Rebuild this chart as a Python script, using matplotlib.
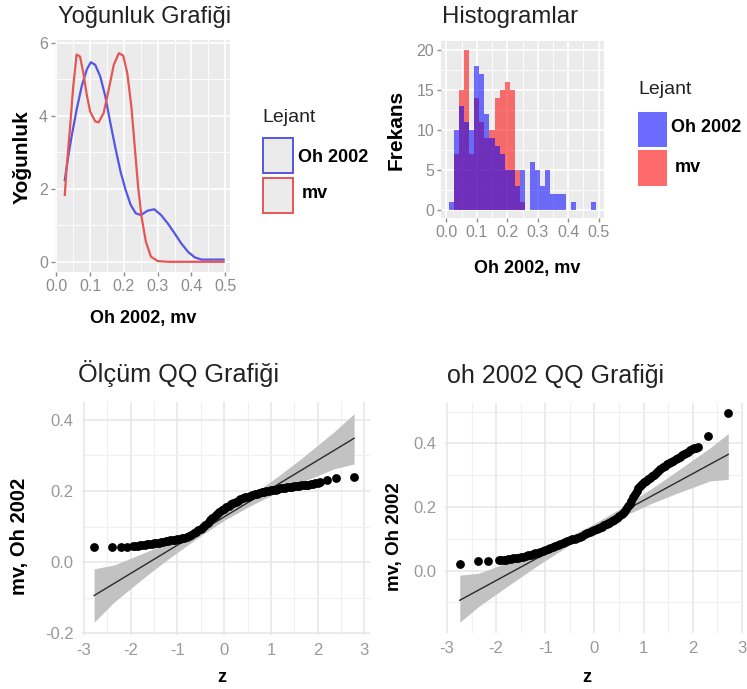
import numpy as np
import matplotlib
matplotlib.use("Agg")
import matplotlib.pyplot as plt
from matplotlib.patches import Rectangle
from matplotlib.ticker import FixedLocator

plt.rcParams['font.family'] = ['Liberation Sans', 'DejaVu Sans']

# ---------------- data ----------------
# density curves (x, density)
dens_oh_x = [0.025, 0.035, 0.045, 0.06, 0.075, 0.09, 0.102, 0.115, 0.13, 0.145, 0.16, 0.175, 0.19,
             0.205, 0.22, 0.235, 0.25, 0.27, 0.29, 0.31, 0.33, 0.35, 0.37, 0.39, 0.41, 0.43, 0.46, 0.495]
dens_oh_y = [2.24, 2.88, 3.43, 4.17, 4.81, 5.27, 5.47, 5.40, 5.08, 4.53, 3.80, 3.11, 2.47,
             1.97, 1.56, 1.33, 1.28, 1.40, 1.44, 1.28, 1.05, 0.78, 0.50, 0.27, 0.12, 0.06, 0.06, 0.06]
dens_mv_x = [0.025, 0.03, 0.04, 0.05, 0.06, 0.07, 0.08, 0.09, 0.10, 0.115, 0.125, 0.14, 0.155, 0.17,
             0.185, 0.198, 0.21, 0.222, 0.232, 0.242, 0.252, 0.265, 0.28, 0.30, 0.33, 0.495]
dens_mv_y = [1.83, 2.52, 3.62, 4.81, 5.68, 5.63, 5.17, 4.58, 4.12, 3.85, 3.82, 4.08, 4.72, 5.40,
             5.72, 5.65, 5.17, 4.26, 3.16, 2.06, 1.24, 0.55, 0.14, 0.02, 0.0, 0.0]

# histogram counts (shared bins)
hist_bin_start = 0.008
hist_binwidth = 0.01667
hist_oh = [1, 10, 13, 11, 10, 18, 17, 12, 9, 8, 7, 5, 5, 3, 5, 0, 6, 5, 3, 5, 2, 2, 2, 0, 1, 0, 0, 0, 1]
hist_mv = [0, 7, 15, 20, 7, 14, 11, 9, 10, 14, 15, 16, 15, 5, 1, 0, 0, 0, 0, 0, 0, 0, 0, 0, 0, 0, 0, 0, 0]

# QQ plot: measurement (mv)  (theoretical z, sample value)
qq_mv_z = [-2.78, -2.39, -2.20, -2.07,
           -1.95, -1.90, -1.85, -1.80, -1.75, -1.70, -1.65, -1.60, -1.55, -1.50, -1.45, -1.40,
           -1.35, -1.30, -1.25, -1.20, -1.15, -1.10, -1.05, -1.00, -0.95, -0.90, -0.85, -0.80,
           -0.75, -0.70, -0.65, -0.60, -0.55, -0.50, -0.45, -0.40, -0.35, -0.30, -0.25, -0.20,
           -0.15, -0.10, -0.05, 0.00, 0.05, 0.10, 0.15, 0.20, 0.25, 0.30, 0.35, 0.40, 0.45, 0.50,
           0.55, 0.60, 0.65, 0.70, 0.75, 0.80, 0.85, 0.90, 0.95, 1.00, 1.05, 1.10, 1.15, 1.20,
           1.25, 1.30, 1.35, 1.40, 1.45, 1.50, 1.55, 1.60, 1.65, 1.70, 1.75, 1.80, 1.85, 1.90,
           1.95, 2.00, 2.05,
           2.20, 2.39, 2.78]
qq_mv_v = [0.042, 0.042, 0.042, 0.043,
           0.045, 0.046, 0.046, 0.047, 0.048, 0.049, 0.050, 0.051, 0.052, 0.053, 0.054, 0.055,
           0.056, 0.057, 0.059, 0.060, 0.061, 0.062, 0.063, 0.064, 0.065, 0.067, 0.069, 0.071,
           0.074, 0.077, 0.081, 0.085, 0.089, 0.094, 0.099, 0.105, 0.111, 0.117, 0.123, 0.129,
           0.135, 0.140, 0.145, 0.150, 0.155, 0.159, 0.163, 0.166, 0.170, 0.173, 0.176, 0.179,
           0.182, 0.184, 0.186, 0.188, 0.190, 0.192, 0.194, 0.196, 0.198, 0.199, 0.201, 0.202,
           0.203, 0.204, 0.205, 0.207, 0.208, 0.209, 0.210, 0.211, 0.212, 0.213, 0.214, 0.215,
           0.216, 0.216, 0.217, 0.218, 0.219, 0.220, 0.221, 0.222, 0.224,
           0.232, 0.236, 0.239]
qq_mv_intercept = 0.127
qq_mv_slope = 0.0795
band_mv_z = [-2.78, -2.35, -1.64, -1.14, -0.5, 0, 0.5, 1.14, 1.64, 2.35, 2.78]
band_mv_lo = [-0.169, -0.112, -0.036, 0.014, 0.074, 0.117, 0.154, 0.196, 0.224, 0.262, 0.276]
band_mv_hi = [-0.019, -0.008, 0.030, 0.058, 0.100, 0.137, 0.180, 0.240, 0.290, 0.366, 0.417]

# QQ plot: Oh 2002
qq_oh_z = [-2.74, -2.36, -2.16,
           -1.95, -1.90, -1.85, -1.80, -1.75, -1.70, -1.65, -1.60, -1.55, -1.50, -1.45, -1.40,
           -1.35, -1.30, -1.25, -1.20, -1.15, -1.10, -1.05, -1.00, -0.95, -0.90, -0.85, -0.80,
           -0.75, -0.70, -0.65, -0.60, -0.55, -0.50, -0.45, -0.40, -0.35, -0.30, -0.25, -0.20,
           -0.15, -0.10, -0.05, 0.00, 0.05, 0.10, 0.15, 0.20, 0.25, 0.30, 0.35, 0.40, 0.45, 0.50,
           0.55, 0.60, 0.65, 0.69, 0.72, 0.75, 0.79, 0.82, 0.86, 0.89, 0.93, 0.97, 1.00, 1.04,
           1.08, 1.12, 1.16, 1.20, 1.25, 1.30, 1.34, 1.39, 1.43, 1.47, 1.52, 1.56, 1.60, 1.65,
           1.69, 1.73, 1.77, 1.82, 1.86, 1.90, 1.94, 1.99, 2.03, 2.07, 2.11,
           2.31, 2.72]
qq_oh_v = [0.021, 0.029, 0.029,
           0.032, 0.033, 0.034, 0.035, 0.036, 0.037, 0.039, 0.040, 0.041, 0.043, 0.044, 0.046,
           0.048, 0.050, 0.052, 0.054, 0.057, 0.060, 0.063, 0.066, 0.069, 0.072, 0.075, 0.078,
           0.081, 0.084, 0.087, 0.090, 0.093, 0.096, 0.098, 0.101, 0.104, 0.107, 0.110, 0.114,
           0.117, 0.121, 0.124, 0.128, 0.131, 0.134, 0.138, 0.142, 0.146, 0.150, 0.155, 0.160,
           0.166, 0.172, 0.178, 0.185, 0.193, 0.202, 0.210, 0.219, 0.230, 0.240, 0.250, 0.259,
           0.267, 0.273, 0.278, 0.283, 0.288, 0.292, 0.297, 0.302, 0.308, 0.313, 0.319, 0.325,
           0.330, 0.334, 0.338, 0.342, 0.346, 0.350, 0.354, 0.358, 0.362, 0.366, 0.370, 0.374,
           0.378, 0.381, 0.384, 0.386, 0.388,
           0.422, 0.496]
qq_oh_intercept = 0.137
qq_oh_slope = 0.084
band_oh_z = [-2.74, -2.35, -1.64, -1.14, -0.5, 0, 0.5, 1.14, 1.64, 2.35, 2.72]
band_oh_lo = [-0.162, -0.112, -0.035, 0.018, 0.081, 0.126, 0.165, 0.210, 0.241, 0.282, 0.287]
band_oh_hi = [-0.014, -0.008, 0.033, 0.064, 0.109, 0.148, 0.193, 0.256, 0.309, 0.386, 0.431]

# ---------------- layout helpers ----------------
W, H = 747, 689
fig = plt.figure(figsize=(W / 100, H / 100), dpi=100)


def add_ax(l, t, r, b):
    return fig.add_axes([l / W, 1 - b / H, (r - l) / W, (b - t) / H])


def ftext(x, y, s, **kw):
    return fig.text(x / W, 1 - y / H, s, **kw)


def frect(l, t, r, b, **kw):
    rect = Rectangle((l / W, 1 - b / H), (r - l) / W, (b - t) / H, transform=fig.transFigure, **kw)
    fig.add_artist(rect)


TICKC = '#8C8C8C'
BLUE_LINE = '#5555E6'
RED_LINE = '#E65555'


def gg_gray(ax):
    ax.set_facecolor('#EBEBEB')
    for s in ax.spines.values():
        s.set_visible(False)
    ax.grid(True, which='major', color='white', lw=1.2)
    ax.grid(True, which='minor', color='white', lw=0.6)
    ax.set_axisbelow(True)
    ax.tick_params(which='major', colors=TICKC, labelsize=11.5, length=3, width=1, pad=2)
    ax.tick_params(which='minor', length=0)


def gg_minimal(ax):
    ax.set_facecolor('white')
    for s in ax.spines.values():
        s.set_visible(False)
    ax.grid(True, which='major', color='#E6E6E6', lw=1.1)
    ax.grid(True, which='minor', color='#F0F0F0', lw=0.8)
    ax.set_axisbelow(True)
    ax.tick_params(which='major', colors='#999999', labelsize=12, length=0, pad=6)
    ax.tick_params(which='minor', length=0)


# ---------------- density ----------------
ax1 = add_ax(55, 40, 230, 272)
gg_gray(ax1)
ax1.plot(dens_oh_x, dens_oh_y, color=BLUE_LINE, lw=1.6)
ax1.plot(dens_mv_x, dens_mv_y, color=RED_LINE, lw=1.6)
ax1.set_xlim(-0.004, 0.514)
ax1.set_ylim(-0.28, 6.08)
ax1.xaxis.set_major_locator(FixedLocator([0, 0.1, 0.2, 0.3, 0.4, 0.5]))
ax1.xaxis.set_minor_locator(FixedLocator([0.05, 0.15, 0.25, 0.35, 0.45]))
ax1.yaxis.set_major_locator(FixedLocator([0, 2, 4, 6]))
ax1.yaxis.set_minor_locator(FixedLocator([1, 3, 5]))
ax1.set_xticklabels(['0.0', '0.1', '0.2', '0.3', '0.4', '0.5'])
ax1.set_yticklabels(['0', '2', '4', '6'])

ftext(58, 23, 'Yoğunluk Grafiği', fontsize=17, color='#222222', va='baseline')
ftext(22, 157, 'Yoğunluk', fontsize=15, fontweight='bold', rotation=90, ha='center', va='center')
ftext(143, 318, 'Oh 2002, mv', fontsize=13, fontweight='bold', ha='center', va='center')

ftext(262, 117, 'Lejant', fontsize=14, color='#222222', va='center')
frect(263, 138, 293, 173, facecolor='#EBEBEB', edgecolor=BLUE_LINE, lw=1.4)
frect(263, 178, 293, 213, facecolor='#EBEBEB', edgecolor=RED_LINE, lw=1.4)
ftext(298, 157, 'Oh 2002', fontsize=13, fontweight='bold', va='center')
ftext(302, 193, 'mv', fontsize=13, fontweight='bold', va='center')

# ---------------- histogram ----------------
ax2 = add_ax(441, 41, 604, 218)
gg_gray(ax2)
nb = len(hist_oh)
centers = hist_bin_start + hist_binwidth * (np.arange(nb) + 0.5)
ax2.bar(centers, hist_mv, width=hist_binwidth, color='#FF0000', alpha=0.55, lw=0)
ax2.bar(centers, hist_oh, width=hist_binwidth, color='#0000FF', alpha=0.55, lw=0)
ax2.set_xlim(-0.018, 0.518)
ax2.set_ylim(-1.05, 21.1)
ax2.xaxis.set_major_locator(FixedLocator([0, 0.1, 0.2, 0.3, 0.4, 0.5]))
ax2.xaxis.set_minor_locator(FixedLocator([0.05, 0.15, 0.25, 0.35, 0.45]))
ax2.yaxis.set_major_locator(FixedLocator([0, 5, 10, 15, 20]))
ax2.yaxis.set_minor_locator(FixedLocator([2.5, 7.5, 12.5, 17.5]))
ax2.set_xticklabels(['0.0', '0.1', '0.2', '0.3', '0.4', '0.5'])
ax2.set_yticklabels(['0', '5', '10', '15', '20'])

ftext(442, 23, 'Histogramlar', fontsize=17.3, color='#222222', va='baseline')
ftext(396, 130, 'Frekans', fontsize=15, fontweight='bold', rotation=90, ha='center', va='center')
ftext(527, 268, 'Oh 2002, mv', fontsize=13, fontweight='bold', ha='center', va='center')

ftext(638, 90, 'Lejant', fontsize=14, color='#222222', va='center')
frect(638, 112, 667, 147, facecolor='#0000FF', alpha=0.58, lw=0)
frect(638, 150, 667, 186, facecolor='#FF0000', alpha=0.58, lw=0)
ftext(671, 128, 'Oh 2002', fontsize=13, fontweight='bold', va='center')
ftext(675, 167, 'mv', fontsize=13, fontweight='bold', va='center')


# ---------------- QQ plots ----------------
def qq_panel(ax, z, v, b_z, b_lo, b_hi, icpt, slope):
    gg_minimal(ax)
    ax.fill_between(b_z, b_lo, b_hi, color='#C2C2C2', lw=0, zorder=2)
    zl = np.array([min(z), max(z)])
    ax.plot(zl, icpt + slope * zl, color='#2A2A2A', lw=1.0, zorder=3)
    ax.scatter(z, v, s=40, color='black', lw=0, zorder=4)
    ax.xaxis.set_major_locator(FixedLocator([-3, -2, -1, 0, 1, 2, 3]))
    ax.xaxis.set_minor_locator(FixedLocator([-2.5, -1.5, -0.5, 0.5, 1.5, 2.5]))
    ax.set_xticklabels(['-3', '-2', '-1', '0', '1', '2', '3'])


ax3 = add_ax(82, 402, 370, 635)
qq_panel(ax3, qq_mv_z, qq_mv_v, band_mv_z, band_mv_lo, band_mv_hi, qq_mv_intercept, qq_mv_slope)
ax3.set_xlim(-3.04, 3.12)
ax3.set_ylim(-0.205, 0.45)
ax3.yaxis.set_major_locator(FixedLocator([-0.2, 0.0, 0.2, 0.4]))
ax3.yaxis.set_minor_locator(FixedLocator([-0.1, 0.1, 0.3]))
ax3.set_yticklabels(['-0.2', '0.0', '0.2', '0.4'])

ax4 = add_ax(445, 403, 743, 633)
qq_panel(ax4, qq_oh_z, qq_oh_v, band_oh_z, band_oh_lo, band_oh_hi, qq_oh_intercept, qq_oh_slope)
ax4.set_xlim(-3.04, 3.02)
ax4.set_ylim(-0.196, 0.527)
ax4.yaxis.set_major_locator(FixedLocator([0.0, 0.2, 0.4]))
ax4.yaxis.set_minor_locator(FixedLocator([-0.1, 0.1, 0.3, 0.5]))
ax4.set_yticklabels(['0.0', '0.2', '0.4'])

ftext(78, 382, 'Ölçüm QQ Grafiği', fontsize=18.2, color='#222222', va='baseline')
ftext(447, 383, 'oh 2002 QQ Grafiği', fontsize=18, color='#222222', va='baseline')
ftext(20, 536, 'mv, Oh 2002', fontsize=14.5, fontweight='bold', rotation=90, ha='center', va='center')
ftext(394, 537, 'mv, Oh 2002', fontsize=13.5, fontweight='bold', rotation=90, ha='center', va='center')
ftext(222, 677, 'z', fontsize=13, fontweight='bold', ha='center', va='center')
ftext(587, 677, 'z', fontsize=13, fontweight='bold', ha='center', va='center')

fig.savefig('out.png', dpi=100)
